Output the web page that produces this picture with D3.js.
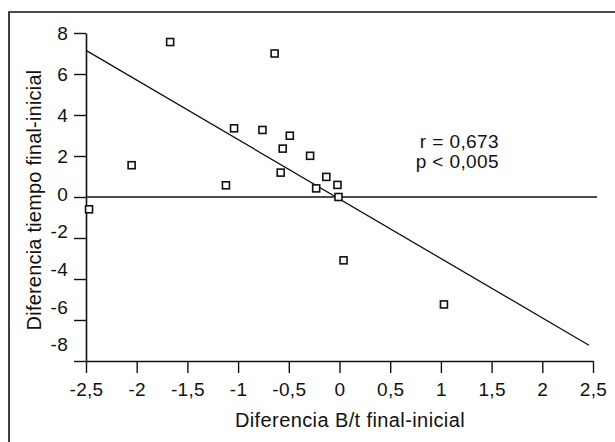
<!DOCTYPE html>
<meta charset="utf-8">
<style>
body { margin: 0; background: #fff; }
svg text { font-family: "Liberation Sans", Arial, Helvetica, sans-serif; fill: #111; }
</style>
<body>
<script src="https://cdn.jsdelivr.net/npm/d3@7/dist/d3.min.js"></script>
<script>

// data
var difBt      = [-2.47, -2.05, -1.67, -1.12, -1.04, -0.76, -0.64, -0.56, -0.58, -0.49, -0.29, -0.23, -0.13, -0.02, -0.01, 0.04, 1.03];
var difTiempo  = [-0.60,  1.55,  7.56,  0.57,  3.35,  3.27,  7.00,  2.36,  1.19,  2.99,  2.01,  0.42,  0.98,  0.59,  0.00, -3.09, -5.24];
var xTicks     = [-2.5, -2, -1.5, -1, -0.5, 0, 0.5, 1, 1.5, 2, 2.5];
var yTicks     = [-8, -6, -4, -2, 0, 2, 4, 6, 8];
var fitCoef    = [-0.1, -2.9];       // intercept, slope
var fitRange   = [-2.5, 2.46];
var statLines  = ["r = 0,673", "p < 0,005"];

var width = 615,
    height = 442;

var svg = d3.select("body").append("svg")
    .attr("width", width)
    .attr("height", height);

var x = d3.scaleLinear().domain([-2.5, 2.5]).range([86, 593]);
var y = d3.scaleLinear().domain([-8, 8]).range([361, 33]);

var comma = function(d) { return String(d).replace(".", ","); };

// frame (left and top edge of the scanned box)
svg.append("path")
  .attr("d", "M9," + height + "V12H" + width)
  .attr("fill", "none")
  .attr("stroke", "#111")
  .attr("stroke-width", 1.6);

// x axis
var gx = svg.append("g")
  .attr("transform", "translate(0," + y(-8) + ")")
  .call(d3.axisBottom(x).tickValues(xTicks).tickFormat(comma).tickSize(12).tickSizeOuter(0).tickPadding(10));

// y axis
var gy = svg.append("g")
  .attr("transform", "translate(" + x(-2.5) + ",0)")
  .call(d3.axisLeft(y).tickValues(yTicks).tickFormat(comma).tickSize(12).tickSizeOuter(0).tickPadding(6));

[gx, gy].forEach(function(g) {
  g.attr("font-size", 19);
  g.select(".domain").attr("stroke", "#111").attr("stroke-width", 1.6);
  g.selectAll(".tick line").attr("stroke", "#111").attr("stroke-width", 1.4);
  g.selectAll(".tick text").attr("letter-spacing", "0.3px");
});

// negative y labels sit a little above their ticks in the original
gy.selectAll(".tick text")
  .attr("y", function(d) { return d <= 0 ? y(0.92 * d) - y(d) - 3 : 0; });

// zero line
svg.append("line")
  .attr("x1", x(-2.5)).attr("x2", x(2.54))
  .attr("y1", y(0)).attr("y2", y(0))
  .attr("stroke", "#111")
  .attr("stroke-width", 1.4);

// regression line
svg.append("line")
  .attr("x1", x(fitRange[0])).attr("y1", y(fitCoef[0] + fitCoef[1] * fitRange[0]))
  .attr("x2", x(fitRange[1])).attr("y2", y(fitCoef[0] + fitCoef[1] * fitRange[1]))
  .attr("stroke", "#111")
  .attr("stroke-width", 1.3);

// points
svg.selectAll("rect.pt")
  .data(difBt)
  .enter().append("rect")
  .attr("class", "pt")
  .attr("x", function(d) { return x(d) - 3.5; })
  .attr("y", function(d, i) { return y(difTiempo[i]) - 3.5; })
  .attr("width", 7)
  .attr("height", 7)
  .attr("fill", "#fff")
  .attr("stroke", "#111")
  .attr("stroke-width", 1.6);

// stats
svg.append("text")
  .attr("text-anchor", "end")
  .attr("font-size", 19)
  .attr("letter-spacing", "0.4px")
  .selectAll("tspan")
  .data(statLines)
  .enter().append("tspan")
  .attr("x", 499)
  .attr("y", function(d, i) { return 148 + i * 20; })
  .text(function(d) { return d; });

// axis titles
svg.append("text")
  .attr("x", 350)
  .attr("y", 427)
  .attr("text-anchor", "middle")
  .attr("font-size", 20)
  .attr("letter-spacing", "0.4px")
  .text("Diferencia B/t final-inicial");

svg.append("text")
  .attr("transform", "translate(41," + (y(0) + 3) + ") rotate(-90)")
  .attr("text-anchor", "middle")
  .attr("font-size", 20)
  .attr("letter-spacing", "0.2px")
  .text("Diferencia tiempo final-inicial");

</script>
</body>
